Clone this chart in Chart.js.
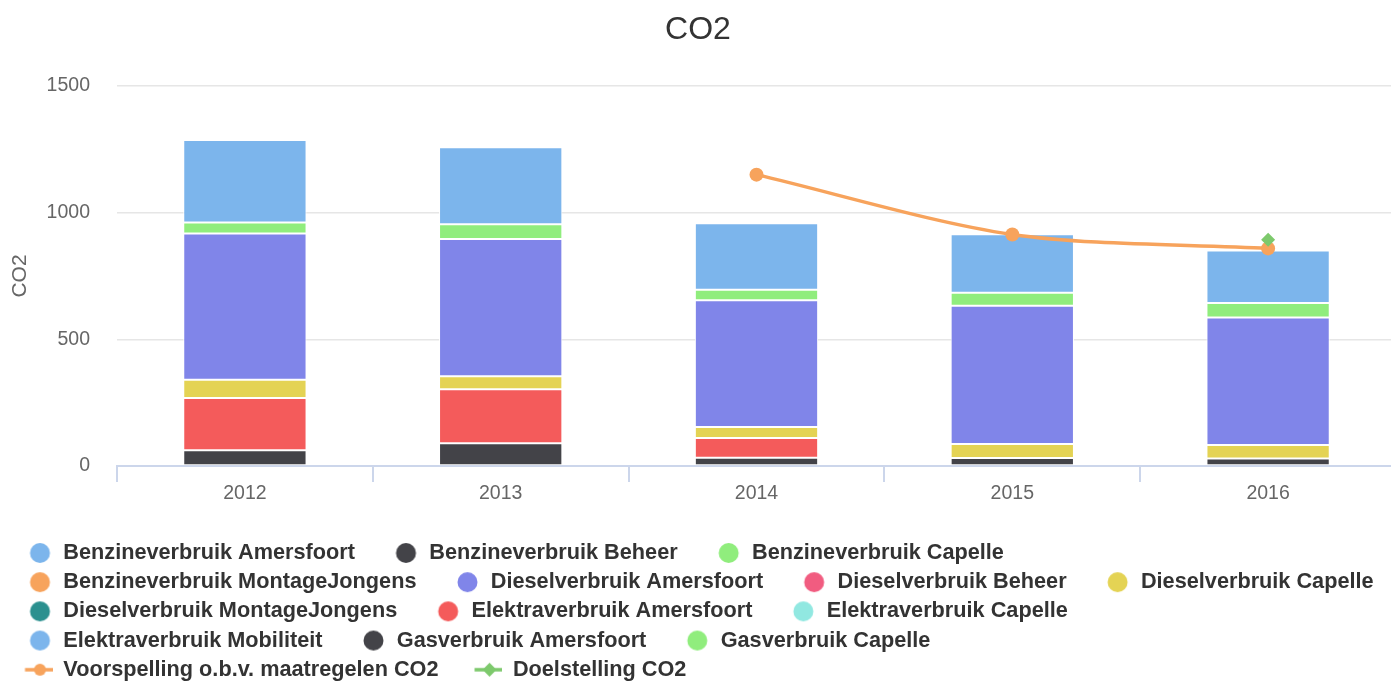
<!DOCTYPE html>
<html>
<head>
<meta charset="utf-8">
<script src="https://cdn.jsdelivr.net/npm/chart.js@4.4.0/dist/chart.umd.min.js"></script>
<style>
  html, body { margin: 0; padding: 0; background: #fff; overflow: hidden; }
  canvas { display: block; }
</style>
</head>
<body>
<canvas id="graph" width="1396" height="681"></canvas>
<script>
// Categories and tick labels
const years = ['2012', '2013', '2014', '2015', '2016'];
const yTicks = [0, 500, 1000, 1500];

// Stacked series (legend order, top of the stack first)
const benzineAmersfoort = [326, 304, 262, 231, 208];
const benzineBeheer = [null, null, null, null, null];
const benzineCapelle = [43, 58, 42, 51, 57];
const benzineMontageJongens = [null, null, null, null, null];
const dieselAmersfoort = [578, 542, 500, 546, 503];
const dieselBeheer = [null, null, null, null, null];
const dieselCapelle = [72, 51, 43, 55, 53];
const dieselMontageJongens = [null, null, null, null, null];
const elektraAmersfoort = [206, 213, 78, null, null];
const elektraCapelle = [null, null, null, null, null];
const elektraMobiliteit = [null, null, null, null, null];
const gasAmersfoort = [62, 90, 33, 32, 30];
const gasCapelle = [null, null, null, null, null];

// Line series
const voorspelling = [null, null, 1150, 914, 859];
const doelstelling = [null, null, null, null, 893];

const barNames = [
    'Benzineverbruik Amersfoort', 'Benzineverbruik Beheer', 'Benzineverbruik Capelle',
    'Benzineverbruik MontageJongens', 'Dieselverbruik Amersfoort', 'Dieselverbruik Beheer',
    'Dieselverbruik Capelle', 'Dieselverbruik MontageJongens', 'Elektraverbruik Amersfoort',
    'Elektraverbruik Capelle', 'Elektraverbruik Mobiliteit', 'Gasverbruik Amersfoort',
    'Gasverbruik Capelle'
];
const barValues = [
    benzineAmersfoort, benzineBeheer, benzineCapelle, benzineMontageJongens,
    dieselAmersfoort, dieselBeheer, dieselCapelle, dieselMontageJongens,
    elektraAmersfoort, elektraCapelle, elektraMobiliteit, gasAmersfoort, gasCapelle
];
const barColors = [
    '#7cb5ec', '#434348', '#90ed7d', '#f7a35c', '#8085e9', '#f15c80', '#e4d354',
    '#2b908f', '#f45b5b', '#91e8e1', '#7cb5ec', '#434348', '#90ed7d'
];

const FONT = "'Liberation Sans', Arial, Helvetica, sans-serif";
const LEGEND_SIZE = 21.7;

// legend symbol: blank lead-in then circle / line+marker
const makeIcon = (kind, color) => {
    const c = document.createElement('canvas');
    c.width = 56;
    c.height = 22;
    const g = c.getContext('2d');
    const cx = 43.5, cy = 11;
    g.fillStyle = color;
    g.strokeStyle = color;
    if (kind === 'bar') {
        g.beginPath();
        g.arc(cx, cy, 10, 0, Math.PI * 2);
        g.fill();
    } else {
        g.lineWidth = 3.5;
        g.beginPath();
        g.moveTo(cx - 15, cy);
        g.lineTo(cx + 15, cy);
        g.stroke();
        g.beginPath();
        if (kind === 'circle') {
            g.arc(cx, cy, 6, 0, Math.PI * 2);
        } else {
            g.moveTo(cx, cy - 7);
            g.lineTo(cx + 7, cy);
            g.lineTo(cx, cy + 7);
            g.lineTo(cx - 7, cy);
            g.closePath();
        }
        g.fill();
    }
    return c;
};

// Bars: bottom of the stack first for Chart.js
const datasets = [];
for (let i = barNames.length - 1; i >= 0; i--) {
    datasets.push({
        type: 'bar',
        label: barNames[i],
        data: barValues[i],
        backgroundColor: barColors[i],
        borderColor: '#ffffff',
        borderWidth: 1,
        borderSkipped: false,
        stack: 'bars',
        barPercentage: 0.482,
        categoryPercentage: 1,
        legendRank: i,
        legendIcon: makeIcon('bar', barColors[i]),
        // trailing gap forces the legend break after this item
        legendText: barNames[i] + (i === barNames.length - 1 ? '    ' : '')
    });
}

datasets.push({
    type: 'line',
    label: 'Voorspelling o.b.v. maatregelen CO2',
    data: voorspelling,
    borderColor: '#f7a35c',
    backgroundColor: '#f7a35c',
    borderWidth: 3.5,
    pointRadius: 7,
    pointHoverRadius: 7,
    pointStyle: 'circle',
    pointBorderWidth: 0,
    tension: 0.3,
    stack: 'voorspelling',
    order: -1,
    legendRank: 13,
    legendIcon: makeIcon('circle', '#f7a35c'),
    legendText: 'Voorspelling o.b.v. maatregelen CO2'
});
datasets.push({
    type: 'line',
    label: 'Doelstelling CO2',
    data: doelstelling,
    borderColor: '#7dc96c',
    backgroundColor: '#7dc96c',
    borderWidth: 3.5,
    pointRadius: 7,
    pointHoverRadius: 7,
    pointStyle: 'rectRot',
    pointBorderWidth: 0,
    stack: 'doelstelling',
    order: -2,
    legendRank: 14,
    legendIcon: makeIcon('diamond', '#7dc96c'),
    legendText: 'Doelstelling CO2'
});

// nudge the legend box to where the reference has it
const legendNudge = {
    id: 'legendNudge',
    afterLayout(chart) {
        const lg = chart.legend;
        lg.left -= 11;
        lg.top += 9.6;
        lg.bottom += 9.6;
    }
};

const ctx = document.getElementById('graph').getContext('2d');
const chart = new Chart(ctx, {
    type: 'bar',
    data: {
        labels: years,
        datasets: datasets
    },
    plugins: [legendNudge],
    options: {
        responsive: false,
        animation: false,
        layout: { autoPadding: false, padding: 0 },
        scales: {
            x: {
                stacked: true,
                grid: {
                    drawOnChartArea: false,
                    drawTicks: true,
                    tickLength: 16,
                    color: '#ccd6eb',
                    lineWidth: 2
                },
                border: { display: true, color: '#ccd6eb', width: 2 },
                ticks: {
                    padding: 0,
                    color: '#666666',
                    font: { family: FONT, size: 19.5 }
                },
                afterFit: (scale) => { scale.height = 59; }
            },
            y: {
                stacked: true,
                min: yTicks[0],
                max: yTicks[yTicks.length - 1],
                afterBuildTicks: (scale) => {
                    scale.ticks = yTicks.map(v => ({ value: v }));
                },
                grid: {
                    color: '#e6e6e6',
                    lineWidth: 1.5,
                    drawTicks: false
                },
                border: { display: false },
                ticks: {
                    padding: 27,
                    color: '#666666',
                    font: { family: FONT, size: 19.5 },
                    callback: (v) => String(v)
                },
                title: {
                    display: true,
                    text: 'CO2',
                    color: '#666666',
                    font: { family: FONT, size: 21 },
                    padding: { top: 8, bottom: 0 }
                },
                afterFit: (scale) => { scale.width = 117; }
            }
        },
        plugins: {
            title: {
                display: true,
                text: 'CO2',
                color: '#333333',
                font: { family: FONT, size: 32, weight: 'normal' },
                padding: { top: 11, bottom: 36.6 }
            },
            legend: {
                position: 'bottom',
                align: 'start',
                labels: {
                    usePointStyle: true,
                    pointStyleWidth: 56,
                    padding: 7.5,
                    color: '#333333',
                    font: { family: FONT, size: LEGEND_SIZE, weight: 'bold' },
                    generateLabels: (chart) => {
                        const items = Chart.defaults.plugins.legend.labels.generateLabels(chart);
                        items.forEach(item => {
                            const ds = chart.data.datasets[item.datasetIndex];
                            item.pointStyle = ds.legendIcon;
                            item.text = ds.legendText;
                        });
                        return items.sort((a, b) =>
                            chart.data.datasets[a.datasetIndex].legendRank -
                            chart.data.datasets[b.datasetIndex].legendRank);
                    }
                }
            },
            tooltip: { enabled: false }
        }
    }
});
</script>
</body>
</html>
